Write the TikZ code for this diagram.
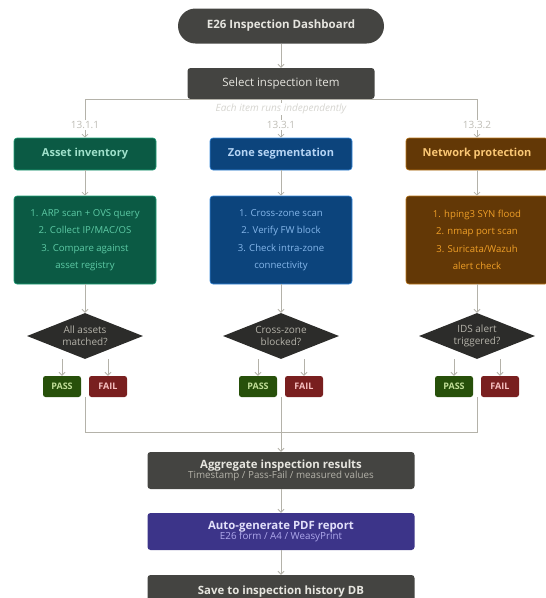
\documentclass[tikz,border=0pt]{standalone}
\usepackage{fontspec}
\setmainfont{Open Sans}
\usetikzlibrary{arrows.meta,shapes.geometric}

\definecolor{dk}{HTML}{444441}
\definecolor{lt}{HTML}{E6E5DF}
\definecolor{ln}{HTML}{B4B2A9}
\definecolor{gbg}{HTML}{0B5A44}
\definecolor{gbd}{HTML}{1D9E75}
\definecolor{gtt}{HTML}{9FE1CB}
\definecolor{gtx}{HTML}{5DCAA5}
\definecolor{bbg}{HTML}{0C447C}
\definecolor{bbd}{HTML}{378ADD}
\definecolor{btt}{HTML}{B5D4F4}
\definecolor{btx}{HTML}{85B7EB}
\definecolor{obg}{HTML}{633806}
\definecolor{obd}{HTML}{BA7517}
\definecolor{ott}{HTML}{FAC775}
\definecolor{otx}{HTML}{EF9F27}
\definecolor{dbg}{HTML}{2C2C2A}
\definecolor{pbg}{HTML}{27500A}
\definecolor{ptx}{HTML}{C0DD97}
\definecolor{fbg}{HTML}{791F1F}
\definecolor{ftx}{HTML}{F7C1C1}
\definecolor{vbg}{HTML}{3C3489}
\definecolor{vtt}{HTML}{E2E0FA}
\definecolor{vtx}{HTML}{AFA9EC}

\begin{document}
\begin{tikzpicture}[x=1pt, y=-1pt,
		h/.style = {rectangle, rounded corners=17.5pt, fill=dk, text=lt, font=\bfseries\fontsize{11.5}{13}\selectfont, minimum width=206, minimum height=35},
		g/.style = {rectangle, rounded corners=3pt, fill=dk, text=lt, align=center, minimum width=267, minimum height=37, inner sep=2pt},
		t/.style = {rectangle, rounded corners=3pt, line width=0.6pt, font=\bfseries\fontsize{11}{13}\selectfont, minimum width=142, minimum height=32},
		s/.style = {rectangle, rounded corners=3pt, line width=0.6pt, align=center, font=\fontsize{9.6}{17.4}\selectfont, minimum width=142, minimum height=88},
		d/.style = {diamond, aspect=2.5, inner sep=0pt, fill=dbg, text=ln, align=center, font=\fontsize{10}{11.7}\selectfont, minimum width=116, minimum height=46},
		p/.style = {rectangle, rounded corners=2.5pt, fill=pbg, text=ptx, font=\bfseries\fontsize{9}{10}\selectfont, minimum width=38, minimum height=21},
		f/.style = {rectangle, rounded corners=2.5pt, fill=fbg, text=ftx, font=\bfseries\fontsize{9}{10}\selectfont, minimum width=38, minimum height=21},
		k/.style = {fill=white, text=ln!85, inner sep=1pt, font=\fontsize{10}{11}\selectfont},
		r/.style = {-{Straight Barb[length=3pt, width=6pt]}, draw=ln, line width=0.8pt},
		l/.style = {draw=ln, line width=0.8pt},
		]
		
		\useasboundingbox (0, 0) rectangle (546, 598);
		
		% === === Nodes === ===
		\node[h]	(top)	at	(281, 26)		{E26 Inspection Dashboard};
		\node[g, minimum width=187, minimum height=31, font=\fontsize{11.5}{13}\selectfont]
					(sel)	at	(281, 83.5)		{Select inspection item};
		
		\node[t, fill=gbg, draw=gbd, text=gtt]	(t1)	at	(85, 154)	{Asset inventory};
		\node[t, fill=bbg, draw=bbd, text=btt]	(t2)	at	(281, 154)	{Zone segmentation};
		\node[t, fill=obg, draw=obd, text=ott]	(t3)	at	(477, 154)	{Network protection};
		
		\node[s, fill=gbg, draw=gbd, text=gtx]	(s1)	at	(85, 240)
			{1. ARP scan + OVS query\\2. Collect IP/MAC/OS\\3. Compare against\\asset registry};
		\node[s, fill=bbg, draw=bbd, text=btx]	(s2)	at	(281, 240)
			{1. Cross-zone scan\\2. Verify FW block\\3. Check intra-zone\\connectivity};
		\node[s, fill=obg, draw=obd, text=otx]	(s3)	at	(477, 240)
			{1. hping3 SYN flood\\2. nmap port scan\\3. Suricata/Wazuh\\alert check};
		
		\node[d]	(d1)	at	(85, 336)		{All assets\\matched?};
		\node[d]	(d2)	at	(281, 336)		{Cross-zone\\blocked?};
		\node[d]	(d3)	at	(477, 336)		{IDS alert\\triggered?};
		
		\node[p]	(p1)	at	(62, 386.5)		{PASS};
		\node[f]	(f1)	at	(108, 386.5)	{FAIL};
		\node[p]	(p2)	at	(258, 386.5)	{PASS};
		\node[f]	(f2)	at	(304, 386.5)	{FAIL};
		\node[p]	(p3)	at	(454, 386.5)	{PASS};
		\node[f]	(f3)	at	(500, 386.5)	{FAIL};
		
		\coordinate	(m)		at	(281, 432.5);
		
		\node[g]	(agg)	at	(281, 470.5)
			{{\bfseries\fontsize{11.4}{13}\selectfont Aggregate inspection results}\\[-2pt]
			 {\fontsize{9.8}{11}\selectfont\color{ln}Timestamp / Pass-Fail / measured values}};
		\node[g, fill=vbg, text=vtt]	(pdf)	at	(281, 531.5)
			{{\bfseries\fontsize{11.4}{13}\selectfont Auto-generate PDF report}\\[-2pt]
			 {\fontsize{9.8}{11}\selectfont\color{vtx}E26 form / A4 / WeasyPrint}};
		\node[g, minimum height=34, font=\bfseries\fontsize{11.4}{13}\selectfont]
					(save)	at	(281, 592)		{Save to inspection history DB};
		
		% === === Connectors === ===
		\draw[r]	(top)	--	(sel);
		\draw[l]	(t1.north |- sel.south)	--	(t3.north |- sel.south);
		\draw[r]	(t1.north |- sel.south)	--	(t1.north);
		\draw[r]	(sel.south)				--	(t2.north);
		\draw[r]	(t3.north |- sel.south)	--	(t3.north);
		
		\node[k, text=ln!55, font=\itshape\fontsize{10}{11}\selectfont]
					(note)	at	(281, 108.5)	{Each item runs independently};
		\node[k]	(c1)	at	(85, 125)		{13.1.1};
		\node[k]	(c2)	at	(281, 125)		{13.3.1};
		\node[k]	(c3)	at	(477, 125)		{13.3.2};
		
		\draw[r]	(t1)	--	(s1);
		\draw[r]	(t2)	--	(s2);
		\draw[r]	(t3)	--	(s3);
		\draw[r]	(s1)	--	(d1);
		\draw[r]	(s2)	--	(d2);
		\draw[r]	(s3)	--	(d3);
		
		\draw[r]	(p1 |- d1.south)	--	(p1);
		\draw[r]	(f1 |- d1.south)	--	(f1);
		\draw[r]	(p2 |- d2.south)	--	(p2);
		\draw[r]	(f2 |- d2.south)	--	(f2);
		\draw[r]	(p3 |- d3.south)	--	(p3);
		\draw[r]	(f3 |- d3.south)	--	(f3);
		
		\draw[l]	(d1 |- p1.south)	|-	(m)		-|	(d3 |- p3.south);
		\draw[l]	(d2 |- p2.south)	--	(m);
		\draw[r]	(m)		--	(agg);
		\draw[r]	(agg)	--	(pdf);
		\draw[r]	(pdf)	--	(save);
		
	\end{tikzpicture}
\end{document}
